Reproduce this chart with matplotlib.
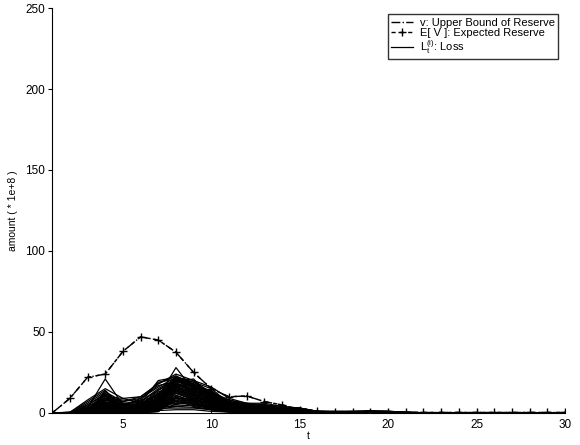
import matplotlib
matplotlib.use("Agg")
import matplotlib.pyplot as plt
import numpy as np

plt.rcParams['font.family'] = ['Liberation Sans', 'DejaVu Sans']
plt.rcParams['mathtext.fontset'] = 'custom'
plt.rcParams['mathtext.rm'] = 'Liberation Sans'
plt.rcParams['mathtext.it'] = 'Liberation Sans'

t = np.arange(1, 31)

# upper bound of reserve and expected reserve (* 1e+8)
upper_bound = [0, 9, 22, 24, 38, 47, 45, 37.5, 25, 15, 10, 10.5, 7, 5, 2,
               1, 0.8, 0.8, 0.8, 0.8, 0.5, 0.3, 0.3, 0.3, 0.3, 0.3, 0.3, 0.3, 0.3, 0.3]
expected_reserve = [0, 9, 22, 24, 38, 47, 45, 37.5, 25, 15, 10, 10.5, 7, 5, 2,
                    1, 0.8, 0.8, 0.8, 0.8, 0.5, 0.3, 0.3, 0.3, 0.3, 0.3, 0.3, 0.3, 0.3, 0.3]

# loss paths L_t^(i), t = 1..22 (zero afterwards)
loss_paths = [
    [0, 0.5, 3, 21, 5, 8, 10, 28, 14, 9, 5, 4, 5, 3, 3, 1, 0.5, 1, 1.5, 1, 0.5, 0],
    [0, 0.4, 8, 15, 9, 6, 20, 22, 20, 12, 7, 5, 4, 3, 2, 1, 1, 1, 1, 1, 0.5, 0],
    [0, 0.3, 6, 13, 7, 10, 18, 23, 17, 13, 8, 6, 5, 4, 3, 1, 0.5, 0.5, 1, 1, 0.3, 0],
    [0, 0.2, 5, 11, 4, 9, 16, 22, 19, 15, 6, 4, 3, 3, 2, 0.5, 0.5, 0.5, 1, 0.5, 0.2, 0],
    [0, 0.2, 4, 9, 8, 7, 15, 21, 16, 11, 7, 5, 4, 3, 2, 0.5, 0.5, 0.5, 0.5, 0.5, 0.2, 0],
    [0, 0.1, 3, 8, 6, 5, 14, 20, 18, 10, 6, 4, 4, 2, 2, 0.5, 0.3, 0.3, 0.5, 0.5, 0.1, 0],
    [0, 0.3, 7, 14, 3, 8, 19, 21, 13, 14, 5, 3, 5, 3, 2, 1, 0.5, 0.5, 1, 0.5, 0.2, 0],
    [0, 0.2, 2, 12, 5, 4, 12, 22, 15, 12, 8, 5, 3, 2, 2, 0.5, 0.3, 0.5, 0.5, 0.5, 0.1, 0],
    [0, 0.1, 1, 10, 7, 9, 17, 19, 21, 9, 6, 6, 4, 3, 1, 0.5, 0.3, 0.3, 0.5, 0.3, 0.1, 0],
    [0, 0.1, 2, 7, 4, 6, 11, 20, 17, 13, 7, 4, 4, 2, 1, 0.5, 0.3, 0.3, 0.3, 0.3, 0.1, 0],
    [0, 0.1, 3, 6, 3, 3, 10, 18, 14, 11, 6, 3, 3, 2, 1, 0.3, 0.2, 0.3, 0.3, 0.3, 0.1, 0],
    [0, 0.1, 1, 5, 2, 5, 13, 17, 15, 8, 5, 4, 3, 2, 1, 0.3, 0.2, 0.2, 0.3, 0.3, 0.1, 0],
    [0, 0.0, 2, 4, 6, 2, 9, 19, 12, 10, 4, 3, 2, 2, 1, 0.3, 0.2, 0.2, 0.3, 0.2, 0.1, 0],
    [0, 0.0, 1, 3, 1, 4, 8, 16, 13, 7, 5, 2, 2, 1, 1, 0.2, 0.2, 0.2, 0.2, 0.2, 0.1, 0],
    [0, 0.0, 0.5, 2, 3, 1, 7, 15, 11, 9, 3, 2, 2, 1, 0.5, 0.2, 0.1, 0.2, 0.2, 0.2, 0, 0],
    [0, 0.0, 0.5, 9, 1, 3, 6, 14, 10, 6, 4, 2, 1, 1, 0.5, 0.2, 0.1, 0.1, 0.2, 0.1, 0, 0],
    [0, 0.0, 1, 6, 2, 2, 5, 13, 9, 8, 3, 1, 1, 1, 0.5, 0.1, 0.1, 0.1, 0.1, 0.1, 0, 0],
    [0, 0.0, 0.5, 4, 1, 1, 4, 12, 8, 5, 2, 1, 1, 0.5, 0.5, 0.1, 0.1, 0.1, 0.1, 0.1, 0, 0],
    [0, 0.0, 0.3, 3, 0.5, 2, 3, 11, 7, 4, 2, 1, 1, 0.5, 0.3, 0.1, 0, 0.1, 0.1, 0.1, 0, 0],
    [0, 0.0, 0.2, 2, 0.5, 1, 2, 10, 6, 3, 1, 0.5, 0.5, 0.5, 0.3, 0.1, 0, 0.1, 0.1, 0, 0, 0],
    [0, 0.0, 0.1, 1, 0.3, 0.5, 2, 9, 5, 3, 1, 0.5, 0.5, 0.3, 0.2, 0, 0, 0, 0, 0, 0, 0],
    [0, 0.0, 0.1, 0.5, 0.2, 0.5, 1, 8, 4, 2, 0.5, 0.3, 0.3, 0.2, 0.1, 0, 0, 0, 0, 0, 0, 0],
    [0, 0.0, 0.1, 7, 2, 7, 9, 6, 11, 6, 4, 2, 2, 1, 0.5, 0.2, 0.1, 0.1, 0.2, 0.1, 0, 0],
    [0, 0.0, 0.2, 5, 3, 6, 8, 5, 9, 5, 3, 2, 1, 1, 0.5, 0.1, 0.1, 0.1, 0.1, 0.1, 0, 0],
    [0, 0.0, 0.3, 8, 5, 4, 6, 7, 6, 4, 2, 1, 1, 0.5, 0.3, 0.1, 0.1, 0.1, 0.1, 0.1, 0, 0],
    [0, 0.0, 0.1, 3, 2, 3, 4, 4, 5, 3, 1, 1, 0.5, 0.3, 0.2, 0, 0, 0, 0, 0, 0, 0],
    [0, 0.0, 0.1, 2, 1, 2, 3, 3, 3, 2, 1, 0.5, 0.3, 0.2, 0.1, 0, 0, 0, 0, 0, 0, 0],
    [0, 0.0, 0.1, 1, 0.5, 1, 1.5, 2, 2, 1, 0.5, 0.3, 0.2, 0.1, 0, 0, 0, 0, 0, 0, 0, 0],
    [0, 0.2, 4, 10, 9, 10, 18, 24, 20, 16, 9, 6, 6, 4, 3, 1, 1, 1, 1, 1, 0.5, 0],
    [0, 0.1, 5, 12, 6, 7, 14, 21, 19, 12, 6, 5, 5, 3, 3, 1, 0.5, 0.5, 1, 0.5, 0.2, 0],
    [0, 0.1, 3, 9, 5, 5, 12, 18, 16, 11, 5, 4, 3, 2, 2, 0.5, 0.3, 0.3, 0.5, 0.3, 0.1, 0],
    [0, 0.0, 2, 8, 4, 4, 10, 17, 14, 9, 4, 3, 2, 2, 1, 0.3, 0.2, 0.2, 0.3, 0.2, 0.1, 0],
    [0, 0.0, 1, 6, 3, 3, 8, 16, 12, 8, 3, 2, 2, 1, 1, 0.2, 0.1, 0.1, 0.2, 0.1, 0, 0],
    [0, 0.0, 1, 5, 2, 2, 7, 14, 11, 7, 3, 2, 1, 1, 0.5, 0.1, 0.1, 0.1, 0.1, 0.1, 0, 0],
    [0, 0.1, 2, 6.5, 4.5, 5.5, 11, 21.5, 17.5, 12.5, 6.5, 4.5, 3.5, 2.5, 1.5, 0.4, 0.3, 0.3, 0.4, 0.3, 0.1, 0],
    [0, 0.1, 1.5, 5.5, 3.5, 4.5, 9.5, 20.5, 16.5, 11.5, 5.5, 3.5, 3, 2, 1.2, 0.3, 0.2, 0.2, 0.3, 0.2, 0.1, 0],
    [0, 0.0, 1.2, 4.5, 2.5, 3.5, 8.5, 19.5, 15.5, 10.5, 4.5, 3, 2.5, 1.5, 1, 0.3, 0.2, 0.2, 0.2, 0.2, 0, 0],
    [0, 0.0, 0.8, 3.5, 1.5, 2.5, 7.5, 18.5, 14.5, 9.5, 4, 2.5, 2, 1.2, 0.8, 0.2, 0.1, 0.1, 0.2, 0.1, 0, 0],
    [0, 0.0, 0.6, 2.5, 1, 1.8, 6.5, 17.5, 13.5, 8.5, 3.5, 2, 1.5, 1, 0.6, 0.2, 0.1, 0.1, 0.1, 0.1, 0, 0],
    [0, 0.0, 0.4, 1.5, 0.8, 1.2, 5.5, 16.5, 12.5, 7.5, 3, 1.5, 1.2, 0.8, 0.4, 0.1, 0, 0.1, 0.1, 0, 0, 0],
    [0, 0.0, 0.3, 1, 0.5, 0.8, 4.5, 15.5, 11.5, 6.5, 2.5, 1.2, 1, 0.6, 0.3, 0.1, 0, 0, 0, 0, 0, 0],
    [0, 0.0, 0.2, 0.8, 0.4, 0.6, 3.5, 14.5, 10.5, 5.5, 2, 1, 0.8, 0.5, 0.2, 0, 0, 0, 0, 0, 0, 0],
    [0, 0.0, 0.2, 0.6, 0.3, 0.4, 2.5, 13.5, 9.5, 4.5, 1.5, 0.8, 0.6, 0.4, 0.2, 0, 0, 0, 0, 0, 0, 0],
    [0, 0.0, 0.1, 0.4, 0.2, 0.3, 1.5, 12.5, 8.5, 3.5, 1.2, 0.6, 0.4, 0.3, 0.1, 0, 0, 0, 0, 0, 0, 0],
    [0, 0.0, 0.1, 0.3, 0.1, 0.2, 1, 10.5, 7.5, 2.5, 1, 0.4, 0.3, 0.2, 0.1, 0, 0, 0, 0, 0, 0, 0],
    [0, 0.0, 0.1, 0.2, 0.1, 0.1, 0.8, 9.5, 6.5, 2, 0.8, 0.3, 0.2, 0.1, 0, 0, 0, 0, 0, 0, 0, 0],
    [0, 0.0, 0.5, 4, 3.5, 4, 7, 9, 8.5, 6, 3.5, 2.5, 2, 1.2, 0.8, 0.2, 0.1, 0.1, 0.1, 0.1, 0, 0],
    [0, 0.0, 0.4, 3.5, 2.8, 3.2, 6, 8, 7.5, 5.5, 3, 2, 1.5, 1, 0.6, 0.1, 0.1, 0.1, 0.1, 0.1, 0, 0],
    [0, 0.0, 0.3, 2.8, 2.2, 2.6, 5, 7, 6.5, 4.5, 2.5, 1.5, 1.2, 0.8, 0.4, 0.1, 0, 0, 0, 0, 0, 0],
    [0, 0.0, 0.2, 2.2, 1.6, 2, 4, 6, 5.5, 3.5, 2, 1.2, 0.9, 0.6, 0.3, 0, 0, 0, 0, 0, 0, 0],
    [0, 0.0, 0.1, 1.6, 1.2, 1.4, 3, 5, 4.5, 2.8, 1.5, 0.9, 0.7, 0.4, 0.2, 0, 0, 0, 0, 0, 0, 0],
    [0, 0.0, 0.1, 1.2, 0.8, 1, 2.2, 4, 3.5, 2.2, 1.2, 0.6, 0.5, 0.3, 0.1, 0, 0, 0, 0, 0, 0, 0],
    [0, 0.0, 0.3, 13.5, 3, 5, 9, 22.5, 18, 13.5, 6, 4, 3.5, 2.5, 1.5, 0.5, 0.3, 0.3, 0.4, 0.3, 0.1, 0],
    [0, 0.0, 0.2, 11.5, 2, 4, 8, 20, 16, 12, 5, 3.5, 3, 2, 1.2, 0.4, 0.2, 0.2, 0.3, 0.2, 0.1, 0],
    [0, 0.0, 0.1, 10.5, 1.5, 3, 7, 18, 14, 10, 4.5, 3, 2.5, 1.5, 1, 0.3, 0.2, 0.2, 0.2, 0.1, 0, 0],
]
loss_tail = [0, 0, 0, 0, 0, 0, 0, 0]

fig = plt.figure(figsize=(5.8, 4.45), dpi=100)
ax = fig.add_axes([0.09, 0.072, 0.884, 0.91])

for i, path in enumerate(loss_paths):
    ax.plot(t, path + loss_tail, color='black', lw=0.9,
            label=r'L$_t^{(i)}$: Loss' if i == 0 else None, zorder=2)

ax.plot(t, upper_bound, color='black', ls='-.', lw=1.0,
        label='v: Upper Bound of Reserve', zorder=3)
ax.plot(t, expected_reserve, color='black', ls=(0, (3, 3)), lw=1.0,
        marker='+', ms=6, mew=1.0, label='E[ V ]: Expected Reserve', zorder=4)

ax.set_xlim(1, 30)
ax.set_ylim(0, 250)
ax.set_xticks([5, 10, 15, 20, 25, 30])
ax.set_yticks([0, 50, 100, 150, 200, 250])
ax.spines['top'].set_visible(False)
ax.spines['right'].set_visible(False)
ax.tick_params(axis='both', labelsize=8.5, length=3, width=0.8)
ax.tick_params(axis='y', pad=2)
ax.tick_params(axis='x', direction='in', pad=4)
ax.set_xlabel('t', fontsize=7.5, labelpad=0)
ax.set_ylabel('amount ( * 1e+8 )', fontsize=7.5, labelpad=5)

handles, labels = ax.get_legend_handles_labels()
order = [1, 2, 0]
leg = ax.legend([handles[k] for k in order], [labels[k] for k in order],
                loc='upper right', bbox_to_anchor=(0.998, 0.998), fontsize=8,
                frameon=True, fancybox=False, edgecolor='black',
                handlelength=2.0, borderpad=0.3, labelspacing=0.0,
                handletextpad=0.6)
leg.get_frame().set_linewidth(1.0)

fig.savefig('out.png', dpi=100)
